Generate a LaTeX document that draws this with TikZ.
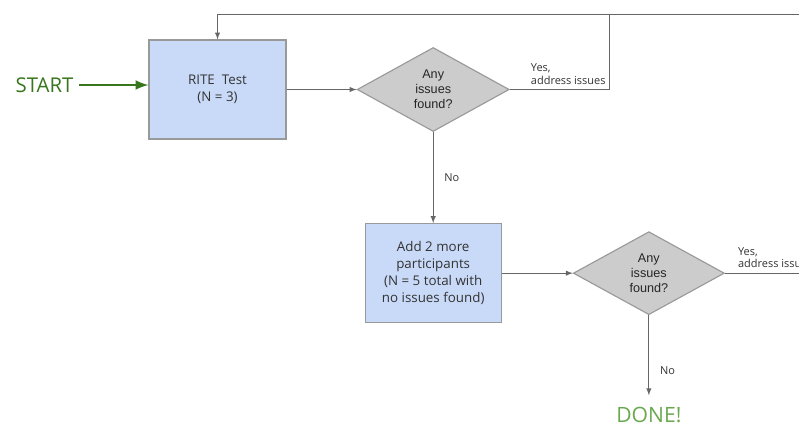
\documentclass[tikz,border=0pt]{standalone}
\usepackage{fontspec}
\setmainfont{Open Sans}
\newfontfamily\arialfont{Liberation Sans}
\usetikzlibrary{shapes.geometric,positioning}
\definecolor{boxblue}{HTML}{C9DAF8}
\definecolor{diagray}{HTML}{CCCCCC}
\definecolor{edgegray}{HTML}{999999}
\definecolor{linegray}{HTML}{666666}
\definecolor{startgreen}{HTML}{38761D}
\definecolor{donegreen}{HTML}{6AA84F}
\begin{document}
\begin{tikzpicture}[x=0.025cm,y=-0.025cm,
  stepbox/.style={rectangle,draw=edgegray,fill=boxblue,line width=0.8pt,
    minimum width=3.425cm,minimum height=2.475cm,align=center,text=black!80,
    font=\fontsize{9.5}{12}\selectfont},
  decision/.style={diamond,draw=edgegray,fill=diagray,line width=0.8pt,inner sep=0pt,
    shape aspect=1.8,minimum width=3.8cm,minimum height=2.1cm,align=center,text=black!85,
    font=\arialfont\fontsize{9}{10.8}\selectfont},
  flow/.style={draw=linegray,line width=0.7pt},
  edgelabel/.style={align=left,text=black!80,font=\fontsize{7.8}{9}\selectfont},
  bigword/.style={font=\fontsize{14.5}{17}\selectfont}]
\useasboundingbox (0,0) rectangle (799,428);
\clip (0,0) rectangle (799,428);
	\node[stepbox] (rite) at (217.5,89.5) {RITE~~Test\\(N = 3)};
	\node[decision,right=1.75cm of rite] (any1) {Any\\issues\\found?};
	\node[stepbox,below=2.275cm of any1,minimum width=3.4cm] (more)
		{Add 2 more\\participants\\(N = 5 total with\\no issues found)};
	\node[decision,right=1.775cm of more,minimum width=3.775cm,minimum height=2.075cm] (any2)
		{Any\\issues\\found?};
	\node[bigword,text=startgreen,inner sep=0pt] (start) at (44.5,85) {START};
	\node[bigword,text=donegreen,inner sep=0pt,font=\fontsize{15}{18}\selectfont,
		below=2.3cm of any2] (done) {DONE!};
	% loop back to the test
	\coordinate (loop1) at (609,14);
	\coordinate (rightend) at (810,14);
	\coordinate (top) at (rite.north |- loop1);
\draw[startgreen, line width=2.1pt, ->, >=latex] (start.east -| 79,0) -- (rite.west |- start);
\draw[flow, ->, >=latex] (rite) -- (any1);
\draw[flow] (any1.east) -| (loop1)
	node[at start, anchor=south west, xshift=0.4cm, edgelabel] {Yes,\\address issues};
\draw[flow, ->, >=latex] (rightend) -- (top) -- (rite.north);
\draw[flow, ->, >=latex] (any1) -- node[right=0.15cm, edgelabel] {No} (more);
\draw[flow, ->, >=latex] (more) -- (any2);
\draw[flow] (any2.east) -- (any2.east -| rightend)
	node[at start, anchor=south west, xshift=0.2cm, edgelabel] {Yes,\\address issues};
\draw[flow, ->, >=latex, shorten >=0.3cm] (any2) -- node[pos=0.6, right=0.15cm, edgelabel] {No} (done);
	\end{tikzpicture}
\end{document}
